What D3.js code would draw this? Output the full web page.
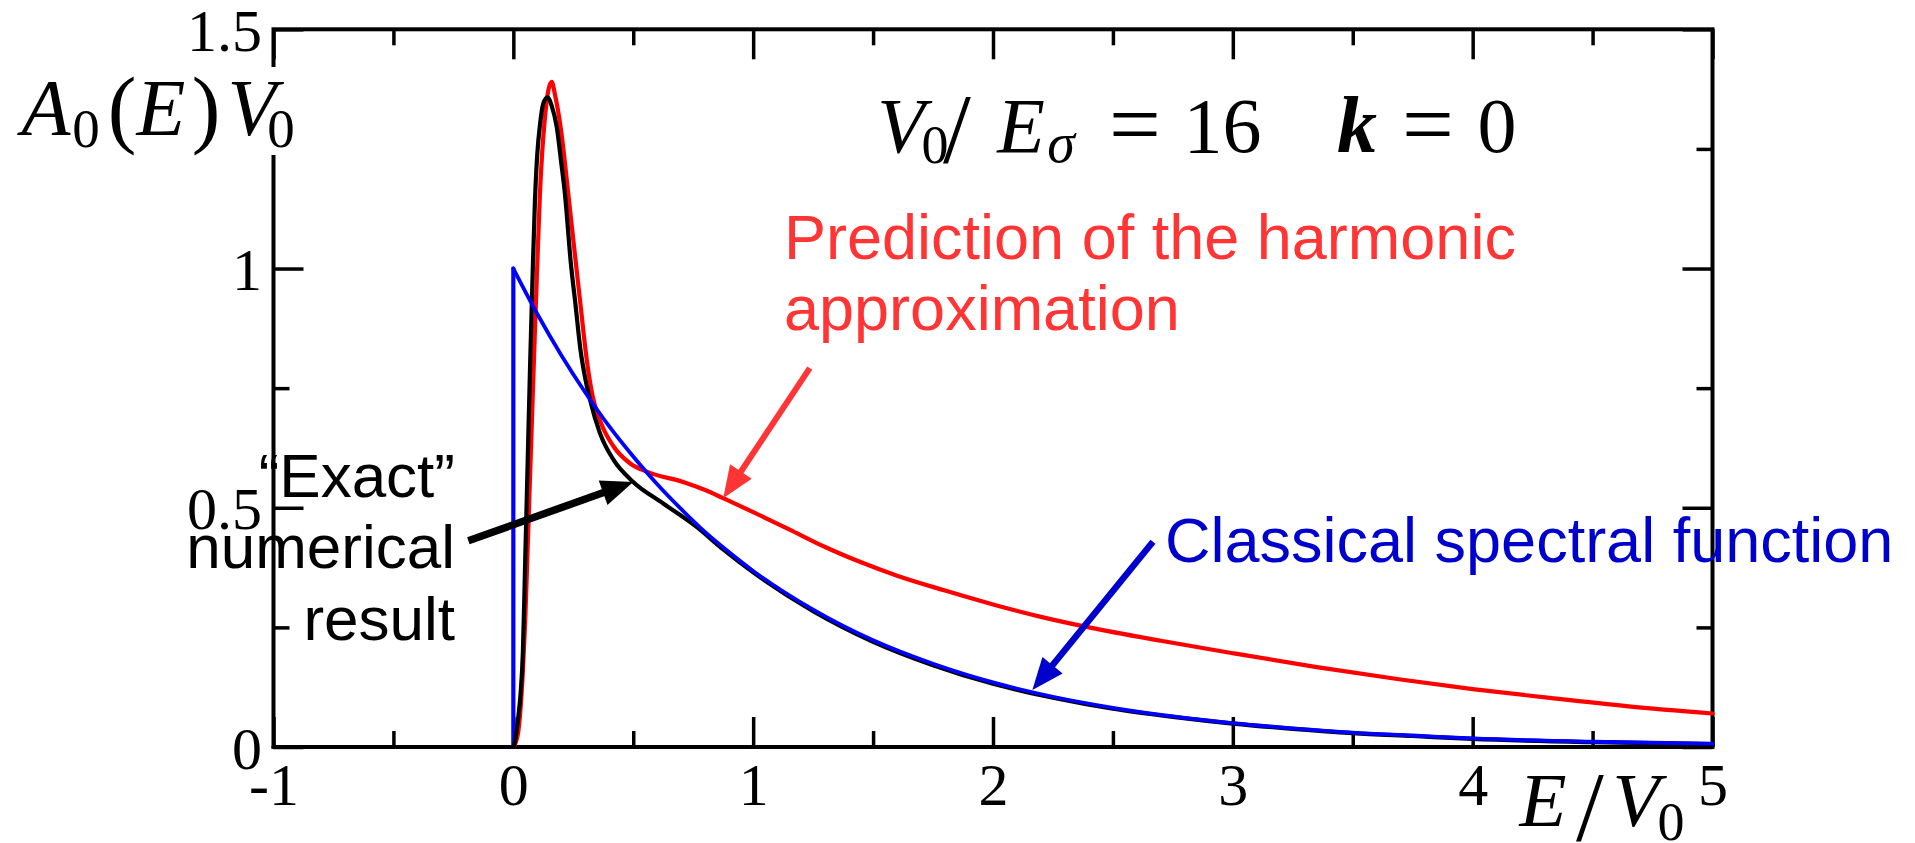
<!DOCTYPE html>
<html>
<head>
<meta charset="utf-8">
<script src="https://cdn.jsdelivr.net/npm/d3@7"></script>
<style>
  html, body { margin: 0; padding: 0; background: #fff; }
  svg { display: block; }
</style>
</head>
<body>
<svg id="chart" width="1915" height="843"></svg>
<script>
// Spectral function A0(E)V0 against E/V0 for V0/Eσ = 16, k = 0

// Harmonic approximation (red)
const harmonicE = [-1, 0, 0.01, 0.02, 0.03, 0.04, 0.05, 0.06, 0.07, 0.08, 0.09, 0.10, 0.111, 0.12, 0.129, 0.145, 0.16, 0.175, 0.197, 0.229, 0.25, 0.278, 0.306, 0.33, 0.361, 0.418, 0.486, 0.57, 0.708, 0.8, 0.875, 1.0, 1.15, 1.3, 1.45, 1.6, 1.8, 2.0, 2.2, 2.4, 2.7, 3.0, 3.35, 3.7, 4.0, 4.33, 4.65, 5.0];
const harmonicA = [0, 0, 0.01, 0.03, 0.08, 0.16, 0.27, 0.42, 0.57, 0.72, 0.87, 1.01, 1.157, 1.24, 1.30, 1.37, 1.39, 1.36, 1.296, 1.157, 1.06, 0.934, 0.81, 0.735, 0.683, 0.628, 0.593, 0.573, 0.554, 0.537, 0.52, 0.491, 0.455, 0.418, 0.386, 0.358, 0.327, 0.298, 0.272, 0.25, 0.222, 0.196, 0.167, 0.141, 0.121, 0.102, 0.085, 0.070];

// "Exact" numerical result (black)
const exactE = [-1, 0, 0.01, 0.02, 0.03, 0.04, 0.05, 0.06, 0.07, 0.08, 0.09, 0.10, 0.111, 0.125, 0.142, 0.16, 0.181, 0.2, 0.215, 0.24, 0.258, 0.28, 0.3, 0.32, 0.361, 0.418, 0.5, 0.625, 0.764, 0.875, 1.0, 1.25, 1.5, 1.75, 2.0, 2.25, 2.5, 2.75, 3.0, 3.25, 3.5, 3.75, 4.0, 4.5, 5.0];
const exactA = [0, 0, 0.02, 0.06, 0.11, 0.20, 0.40, 0.60, 0.80, 0.98, 1.14, 1.24, 1.30, 1.345, 1.358, 1.34, 1.296, 1.22, 1.157, 1.01, 0.93, 0.83, 0.77, 0.725, 0.656, 0.600, 0.554, 0.509, 0.46, 0.413, 0.365, 0.284, 0.220, 0.171, 0.132, 0.103, 0.080, 0.063, 0.049, 0.038, 0.029, 0.023, 0.017, 0.010, 0.006];

// Classical spectral function (blue); the first two points form the step at E = 0
const classicalE = [0, 0, 0.1, 0.2, 0.3, 0.4, 0.5, 0.6, 0.7, 0.8, 0.9, 1.0, 1.25, 1.5, 1.75, 2.0, 2.25, 2.5, 2.75, 3.0, 3.25, 3.5, 3.75, 4.0, 4.5, 5.0];
const classicalA = [0, 1.0, 0.905, 0.819, 0.741, 0.670, 0.607, 0.549, 0.497, 0.449, 0.407, 0.368, 0.287, 0.223, 0.174, 0.135, 0.105, 0.082, 0.064, 0.050, 0.039, 0.030, 0.024, 0.018, 0.011, 0.007];

// Tick values
const xMajorTicks = [-1, 0, 1, 2, 3, 4, 5];
const xMinorTicks = [-0.5, 0.5, 1.5, 2.5, 3.5, 4.5];
const yMajorTicks = [0, 0.5, 1, 1.5];
const yMinorTicks = [0.25, 0.75, 1.25];

// Annotation arrows: tail and tip in data units
const arrowTail = [[1.236, 0.792], [-0.1875, 0.431], [2.667, 0.429]];
const arrowTip = [[0.875, 0.520], [0.5, 0.554], [2.164, 0.119]];
const arrowColor = ["#ff3535", "#000000", "#0000cc"];
const arrowWidth = [6, 7.5, 6.5];

const svg = d3.select("#chart");
svg.append("rect").attr("width", 1915).attr("height", 843).attr("fill", "#fff");

const plot = { left: 273.5, right: 1712.5, top: 29.3, bottom: 747 };
const x = d3.scaleLinear().domain([-1, 5]).range([plot.left, plot.right]);
const y = d3.scaleLinear().domain([0, 1.5]).range([plot.bottom, plot.top]);

const serif = "'Liberation Serif', 'Times New Roman', serif";
const sans = "'Liberation Sans', Arial, sans-serif";

// ---- axes: inward major / minor ticks on all four sides ----
const MAJ = 30, MIN = 16;
function styleAxis(g) {
  g.select(".domain").remove();
  g.selectAll(".tick line").attr("stroke", "#000").attr("stroke-width", 3.5);
  g.selectAll("text").attr("font-family", serif).attr("font-size", 60).attr("fill", "#000");
}
const axes = svg.append("g");
axes.append("g").attr("transform", `translate(0,${plot.bottom})`)
  .call(d3.axisBottom(x).tickValues(xMajorTicks).tickSize(-MAJ).tickFormat(d => String(d)))
  .call(styleAxis)
  .call(g => g.selectAll("text").attr("dy", null).attr("y", 58));
axes.append("g").attr("transform", `translate(0,${plot.bottom})`)
  .call(d3.axisBottom(x).tickValues(xMinorTicks).tickSize(-MIN).tickFormat(""))
  .call(styleAxis);
axes.append("g").attr("transform", `translate(0,${plot.top})`)
  .call(d3.axisTop(x).tickValues(xMajorTicks).tickSize(-MAJ).tickFormat(""))
  .call(styleAxis);
axes.append("g").attr("transform", `translate(0,${plot.top})`)
  .call(d3.axisTop(x).tickValues(xMinorTicks).tickSize(-MIN).tickFormat(""))
  .call(styleAxis);
axes.append("g").attr("transform", `translate(${plot.left},0)`)
  .call(d3.axisLeft(y).tickValues(yMajorTicks).tickSize(-MAJ).tickFormat(d => String(d)))
  .call(styleAxis)
  .call(g => g.selectAll("text").attr("dy", null).attr("x", -11.5).attr("y", 21));
axes.append("g").attr("transform", `translate(${plot.left},0)`)
  .call(d3.axisLeft(y).tickValues(yMinorTicks).tickSize(-MIN).tickFormat(""))
  .call(styleAxis);
axes.append("g").attr("transform", `translate(${plot.right},0)`)
  .call(d3.axisRight(y).tickValues(yMajorTicks).tickSize(-MAJ).tickFormat(""))
  .call(styleAxis);
axes.append("g").attr("transform", `translate(${plot.right},0)`)
  .call(d3.axisRight(y).tickValues(yMinorTicks).tickSize(-MIN).tickFormat(""))
  .call(styleAxis);

// frame
svg.append("rect")
  .attr("x", plot.left).attr("y", plot.top)
  .attr("width", plot.right - plot.left).attr("height", plot.bottom - plot.top)
  .attr("fill", "none").attr("stroke", "#000").attr("stroke-width", 4);

// ---- curves ----
const smooth = d3.line().x(d => x(d[0])).y(d => y(d[1])).curve(d3.curveMonotoneX);
const straight = d3.line().x(d => x(d[0])).y(d => y(d[1]));
const zip = (a, b) => a.map((v, i) => [v, b[i]]);

const curves = svg.append("g").attr("fill", "none").attr("stroke-width", 4.2)
  .attr("stroke-linejoin", "round").attr("stroke-linecap", "round");
curves.append("path").attr("d", smooth(zip(harmonicE, harmonicA))).attr("stroke", "#ff0000");
const classical = zip(classicalE, classicalA);
curves.append("path").attr("d", straight(classical.slice(0, 2))).attr("stroke", "#0000ff");
curves.append("path").attr("d", smooth(zip(exactE, exactA))).attr("stroke", "#000000");
curves.append("path").attr("d", smooth(classical.slice(1))).attr("stroke", "#0000ff")
  .attr("stroke-width", 3.8);

// ---- arrows ----
const arrows = svg.append("g");
arrowTail.forEach((t, i) => {
  const x0 = x(t[0]), y0 = y(t[1]);
  const x1 = x(arrowTip[i][0]), y1 = y(arrowTip[i][1]);
  const dx = x1 - x0, dy = y1 - y0, len = Math.hypot(dx, dy);
  const ux = dx / len, uy = dy / len;
  const headLen = 32, headHalf = 13;
  const bx = x1 - ux * headLen, by = y1 - uy * headLen;
  arrows.append("line")
    .attr("x1", x0).attr("y1", y0).attr("x2", bx + ux * 2).attr("y2", by + uy * 2)
    .attr("stroke", arrowColor[i]).attr("stroke-width", arrowWidth[i]);
  arrows.append("polygon")
    .attr("points", [[x1, y1], [bx - uy * headHalf, by + ux * headHalf], [bx + uy * headHalf, by - ux * headHalf]]
      .map(p => p.join(",")).join(" "))
    .attr("fill", arrowColor[i]);
});

// ---- y-axis title A0(E)V0 on a white panel across the left axis ----
svg.append("rect").attr("x", 0).attr("y", 67).attr("width", 296).attr("height", 88).attr("fill", "#fff");
function glyph(txt, cx, base, size, opts = {}) {
  svg.append("text")
    .attr("x", cx).attr("y", base)
    .attr("text-anchor", "middle")
    .attr("font-family", serif)
    .attr("font-size", size)
    .attr("font-style", opts.italic ? "italic" : "normal")
    .attr("font-weight", opts.bold ? "bold" : "normal")
    .attr("fill", "#000")
    .text(txt);
}
glyph("A", 46, 135, 80, { italic: true });
glyph("0", 86, 147, 55);
glyph("(", 122, 137, 86);
glyph("E", 161, 135, 80, { italic: true });
glyph(")", 206, 137, 86);
glyph("V", 252, 135, 80, { italic: true });
glyph("0", 281, 147, 55);

// ---- x-axis title E/V0 ----
glyph("E", 1543, 826, 77, { italic: true });
glyph("/", 1590, 840, 100);
glyph("V", 1636, 826, 77, { italic: true });
glyph("0", 1671, 840, 54);

// ---- parameter line V0/Eσ = 16   k = 0 ----
glyph("V", 901, 151.7, 78, { italic: true });
glyph("0", 935, 163, 54);
glyph("/", 957, 162, 100);
glyph("E", 1021, 151.7, 78, { italic: true });
glyph("\u03C3", 1061, 162, 56, { italic: true });
glyph("=", 1135, 155, 92);
glyph("16", 1222.5, 151.7, 78);
glyph("k", 1357, 151.7, 80, { italic: true, bold: true });
glyph("=", 1428, 155, 92);
glyph("0", 1497, 151.7, 78);

// ---- annotation texts ----
function note(lines, xPos, baselines, size, color, anchor) {
  lines.forEach((s, i) => {
    svg.append("text")
      .attr("x", xPos).attr("y", baselines[i])
      .attr("text-anchor", anchor)
      .attr("font-family", sans).attr("font-size", size)
      .attr("fill", color)
      .text(s);
  });
}
note(["Prediction of the harmonic", "approximation"], 784, [259, 330], 63, "#ff3535", "start");
note(["\u201CExact\u201D", "numerical", "result"], 455, [497, 568, 640], 62, "#000", "end");
note(["Classical spectral function"], 1165, [562], 63, "#0000cc", "start");
</script>
</body>
</html>
